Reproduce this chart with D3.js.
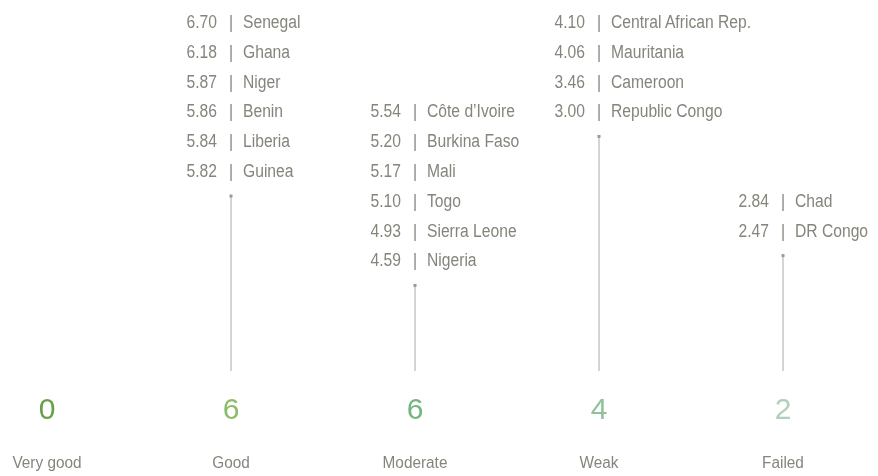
<!DOCTYPE html>
<html>
<head>
<meta charset="utf-8">
<script src="https://cdn.jsdelivr.net/npm/d3@7"></script>
<style>
  html, body { margin: 0; padding: 0; background: #fff; }
  svg { will-change: transform; }
  svg text { font-family: "Liberation Sans", Arial, sans-serif; }
</style>
</head>
<body>
<svg id="chart" width="878" height="476"></svg>
<script>
// Data
const categories = ["Very good", "Good", "Moderate", "Weak", "Failed"];
const counts = [0, 6, 6, 4, 2];
const countColors = ["#68a04a", "#8bbd68", "#74b581", "#8fc19b", "#b3cfb9"];
// starting row of each group's list (as arranged in the original)
const rowStart = [0, 0, 3, 0, 6];
const countries = [
  [],
  ["Senegal", "Ghana", "Niger", "Benin", "Liberia", "Guinea"],
  ["Côte d’Ivoire", "Burkina Faso", "Mali", "Togo", "Sierra Leone", "Nigeria"],
  ["Central African Rep.", "Mauritania", "Cameroon", "Republic Congo"],
  ["Chad", "DR Congo"]
];
const scores = [
  [],
  [6.70, 6.18, 5.87, 5.86, 5.84, 5.82],
  [5.54, 5.20, 5.17, 5.10, 4.93, 4.59],
  [4.10, 4.06, 3.46, 3.00],
  [2.84, 2.47]
];

const svg = d3.select("#chart");
const x = d3.scalePoint().domain(categories).range([47, 783]);
const row = d3.scaleLinear().domain([0, 1]).range([28, 57.8]);
const textColor = "#85857c";
const lineColor = "#a9a9a2";
const stemBottom = 371;
const sx = 0.87;

function narrowText(parent, tx, ty, size, anchor, scale) {
  return parent.append("g").attr("transform", `translate(${tx},${ty}) scale(${scale},1)`)
    .append("text").attr("text-anchor", anchor).attr("font-size", size).attr("fill", textColor);
}

categories.forEach((cat, i) => {
  const cx = x(cat);
  const g = svg.append("g");
  const n = countries[i].length;
  if (n > 0) {
    countries[i].forEach((c, j) => {
      const y = row(rowStart[i] + j);
      narrowText(g, cx - 14, y, 18, "end", sx).text(d3.format(".2f")(scores[i][j]));
      narrowText(g, cx, y, 18, "middle", sx).text("|");
      narrowText(g, cx + 12, y, 18, "start", sx).text(c);
    });
    const top = row(rowStart[i] + n - 1) + 19;
    g.append("line").attr("x1", cx).attr("x2", cx).attr("y1", top).attr("y2", stemBottom)
      .attr("stroke", lineColor).attr("stroke-width", 1);
    g.append("rect").attr("x", cx - 1.5).attr("y", top - 1.5).attr("width", 3).attr("height", 3)
      .attr("fill", "#9a9a92");
  }
  g.append("text").attr("x", cx).attr("y", 419).attr("text-anchor", "middle")
    .attr("font-size", 30).attr("fill", countColors[i]).text(counts[i]);
  narrowText(g, cx, 468, 16, "middle", 0.96).text(cat);
});
</script>
</body>
</html>
